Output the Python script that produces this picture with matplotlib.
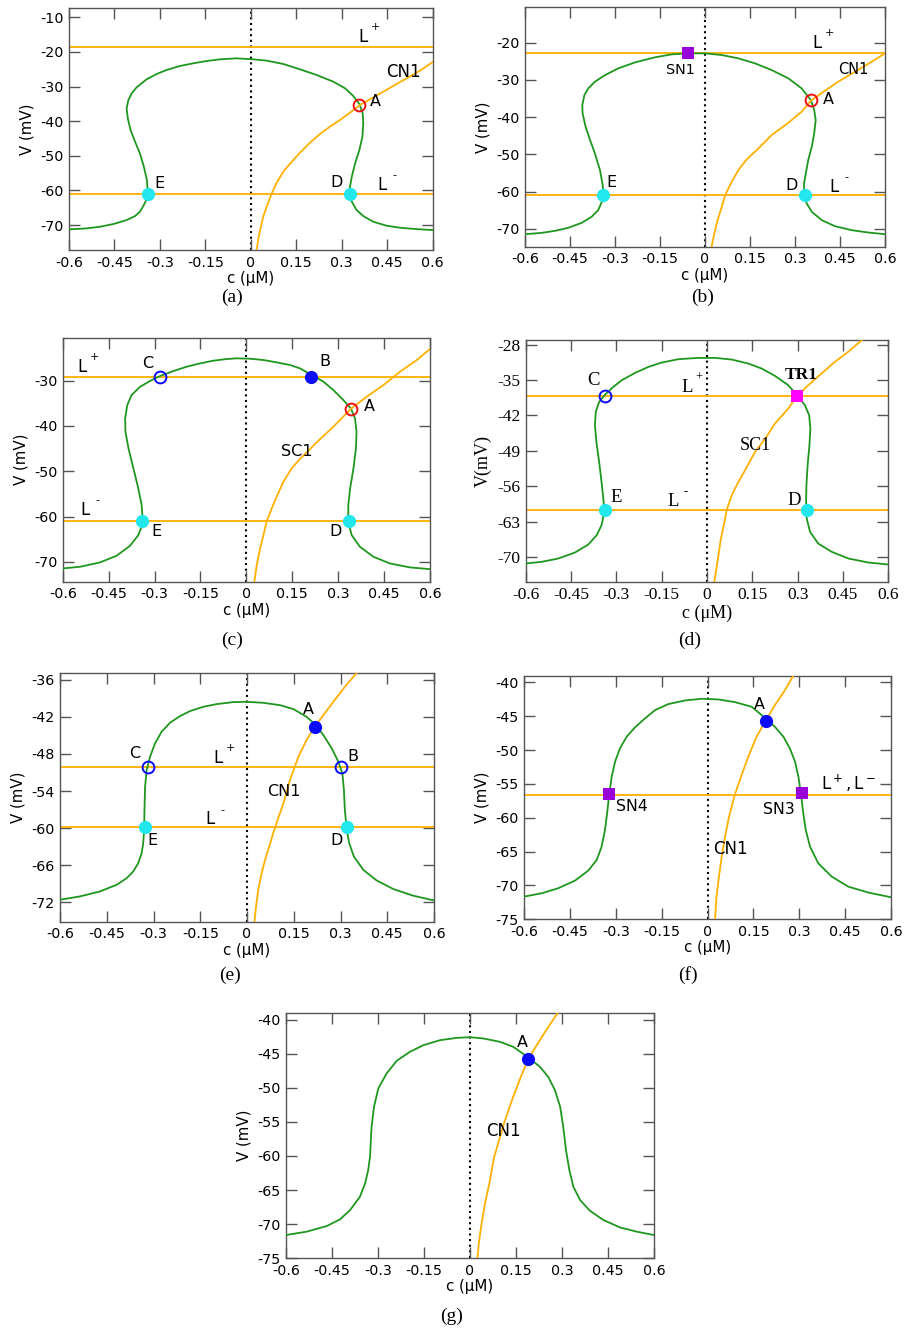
import matplotlib
matplotlib.use('Agg')
import matplotlib.pyplot as plt

plt.rcParams['axes.unicode_minus'] = False
plt.rcParams['font.family'] = ['DejaVu Sans']

GREEN = '#1f971f'
ORANGE = '#ffb000'
CYAN = '#22e8ee'
BLUE = '#0a0aff'
RED = '#ee1010'
PURPLE = '#9a00d8'
MAGENTA = '#ff00ff'
SANS = ['DejaVu Sans']
SERIF = ['Liberation Serif', 'DejaVu Serif']

xticks = [-0.6, -0.45, -0.3, -0.15, 0, 0.15, 0.3, 0.45, 0.6]
xtick_labels = ['-0.6', '-0.45', '-0.3', '-0.15', '0', '0.15', '0.3', '0.45', '0.6']

# ---------------- panel (a) ----------------
green_a_c = [-0.6, -0.542, -0.498, -0.454, -0.410, -0.382, -0.366, -0.353, -0.344, -0.340,
             -0.343, -0.353, -0.366, -0.382, -0.397, -0.406, -0.410, -0.404, -0.393, -0.377,
             -0.344, -0.311, -0.278, -0.234, -0.190, -0.146, -0.102, -0.047, 0.008, 0.052,
             0.107, 0.162, 0.217, 0.272, 0.311, 0.338, 0.358, 0.369, 0.371, 0.368, 0.358,
             0.344, 0.333, 0.327, 0.327, 0.333, 0.349, 0.371, 0.404, 0.448, 0.492, 0.547, 0.6]
green_a_v = [-71.25, -70.96, -70.48, -69.71, -68.56, -67.40, -66.15, -64.22, -62.59, -60.85,
             -57.00, -53.15, -49.29, -45.92, -42.55, -39.18, -36.29, -33.88, -31.96, -30.23,
             -27.91, -26.37, -25.22, -24.06, -23.29, -22.62, -22.14, -21.85, -22.14, -22.52,
             -23.48, -25.02, -26.66, -28.59, -30.51, -32.73, -35.04, -37.74, -40.63, -44.48,
             -48.33, -52.18, -56.04, -58.93, -60.85, -63.26, -65.67, -67.40, -69.04, -70.19,
             -70.77, -71.16, -71.45]
orange_a_c = [0.019, 0.025, 0.033, 0.041, 0.052, 0.069, 0.085, 0.107, 0.135, 0.162, 0.195,
              0.228, 0.261, 0.294, 0.327, 0.358, 0.393, 0.437, 0.481, 0.514, 0.558, 0.6]
orange_a_v = [-77.22, -73.85, -70.48, -67.59, -64.70, -60.85, -57.77, -54.59, -51.70, -49.10,
              -46.21, -43.71, -41.59, -39.66, -37.54, -35.43, -33.69, -31.48, -29.26, -27.62,
              -25.41, -22.91]
levels_a = [-18.5, -60.9]
yticks_a = [-70, -60, -50, -40, -30, -20, -10]
ylim_a = (-77.2, -7.4)

# ---------------- panel (b) ----------------
green_b_c = [-0.6, -0.544, -0.500, -0.456, -0.411, -0.378, -0.356, -0.344, -0.339, -0.341,
             -0.350, -0.367, -0.383, -0.398, -0.408, -0.409, -0.402, -0.389, -0.367, -0.333,
             -0.289, -0.233, -0.167, -0.111, -0.056, 0.000, 0.056, 0.111, 0.167, 0.222,
             0.278, 0.322, 0.353, 0.364, 0.369, 0.364, 0.356, 0.344, 0.336, 0.330, 0.331,
             0.339, 0.356, 0.389, 0.433, 0.489, 0.544, 0.6]
green_b_v = [-71.44, -71.08, -70.54, -69.73, -68.39, -66.78, -64.98, -62.74, -60.77, -58.26,
             -54.23, -49.75, -46.17, -42.58, -39.00, -36.76, -34.07, -32.28, -30.48, -28.69,
             -26.90, -25.29, -23.94, -23.14, -22.87, -22.87, -23.32, -24.21, -25.56, -27.35,
             -29.59, -32.28, -35.41, -38.10, -40.79, -44.37, -47.96, -51.54, -55.13, -57.82,
             -60.77, -63.19, -65.43, -67.67, -69.29, -70.36, -70.99, -71.44]
orange_b_c = [0.022, 0.031, 0.042, 0.056, 0.067, 0.089, 0.111, 0.139, 0.178, 0.222, 0.278,
              0.322, 0.353, 0.400, 0.444, 0.500, 0.556, 0.6]
orange_b_v = [-74.84, -71.26, -67.67, -64.09, -60.95, -57.37, -54.23, -51.36, -48.41, -44.82,
              -41.51, -38.55, -35.59, -32.90, -30.48, -27.80, -25.11, -22.87]
levels_b = [-22.9, -60.8]
yticks_b = [-70, -60, -50, -40, -30, -20]
ylim_b = (-74.8, -10.5)

# ---------------- panel (c) ----------------
green_c_c = [-0.6, -0.543, -0.478, -0.424, -0.380, -0.353, -0.340, -0.339, -0.342, -0.353,
             -0.369, -0.385, -0.395, -0.396, -0.389, -0.375, -0.347, -0.315, -0.282, -0.238,
             -0.195, -0.151, -0.108, -0.064, -0.032, 0.012, 0.056, 0.099, 0.143, 0.175,
             0.210, 0.252, 0.284, 0.317, 0.342, 0.355, 0.360, 0.358, 0.350, 0.339, 0.333,
             0.333, 0.344, 0.371, 0.415, 0.469, 0.535, 0.6]
green_c_v = [-71.47, -71.10, -70.14, -68.67, -66.46, -64.10, -61.89, -60.42, -57.48, -53.79,
             -49.37, -44.95, -41.27, -38.32, -35.38, -33.17, -31.33, -30.07, -28.97, -27.86,
             -26.91, -26.17, -25.58, -25.21, -25.06, -25.14, -25.43, -25.95, -26.54, -27.27,
             -28.60, -30.22, -32.06, -34.27, -36.19, -38.32, -41.27, -44.95, -49.37, -53.79,
             -57.48, -61.16, -64.10, -66.68, -68.89, -70.37, -71.25, -71.62]
orange_c_c = [0.026, 0.034, 0.045, 0.056, 0.066, 0.083, 0.099, 0.121, 0.148, 0.175, 0.208,
              0.241, 0.284, 0.342, 0.393, 0.448, 0.502, 0.557, 0.6]
orange_c_v = [-74.42, -70.73, -67.05, -64.10, -61.16, -58.21, -55.63, -52.32, -49.37, -47.31,
              -45.10, -42.89, -40.17, -36.19, -33.54, -30.96, -28.01, -25.43, -23.00]
levels_c = [-29.1, -61.0]
yticks_c = [-70, -60, -50, -40, -30]
ylim_c = (-74.4, -20.5)

# ---------------- panel (d) ----------------
green_d_c = [-0.6, -0.547, -0.492, -0.437, -0.393, -0.365, -0.349, -0.342, -0.342, -0.349,
             -0.357, -0.366, -0.371, -0.368, -0.357, -0.337, -0.310, -0.282, -0.238, -0.194,
             -0.150, -0.095, -0.029, 0.027, 0.082, 0.137, 0.181, 0.225, 0.269, 0.299, 0.324,
             0.338, 0.342, 0.339, 0.333, 0.329, 0.328, 0.330, 0.341, 0.368, 0.413, 0.468,
             0.534, 0.6]
green_d_v = [-71.30, -70.97, -70.31, -69.13, -67.55, -65.70, -63.72, -61.75, -59.11, -55.16,
             -51.20, -47.25, -43.95, -41.31, -39.34, -37.89, -36.37, -35.05, -33.60, -32.42,
             -31.56, -30.90, -30.64, -30.64, -30.97, -31.76, -32.75, -34.20, -36.04, -38.08,
             -40.00, -41.97, -44.61, -47.90, -51.86, -55.81, -59.11, -62.41, -65.04, -67.35,
             -69.00, -70.31, -71.11, -71.50]
orange_d_c = [0.024, 0.031, 0.038, 0.046, 0.057, 0.065, 0.082, 0.104, 0.126, 0.159, 0.193,
              0.225, 0.269, 0.299, 0.335, 0.379, 0.423, 0.467, 0.512]
orange_d_v = [-74.93, -72.29, -69.66, -66.36, -63.39, -60.76, -57.79, -55.16, -52.85, -49.22,
              -46.59, -43.62, -40.65, -38.08, -36.04, -33.73, -31.43, -29.45, -27.14]
levels_d = [-38.1, -60.8]
yticks_d = [-70, -63, -56, -49, -42, -35, -28]
ylim_d = (-74.9, -27.1)

# ---------------- panel (e) ----------------
green_e_c = [-0.6, -0.536, -0.472, -0.418, -0.386, -0.365, -0.349, -0.338, -0.333, -0.330,
             -0.329, -0.327, -0.322, -0.311, -0.295, -0.274, -0.247, -0.215, -0.183, -0.140,
             -0.097, -0.044, -0.001, 0.052, 0.106, 0.149, 0.191, 0.218, 0.245, 0.272, 0.293,
             0.306, 0.311, 0.314, 0.320, 0.328, 0.343, 0.373, 0.416, 0.470, 0.534, 0.6]
green_e_v = [-71.56, -71.02, -70.22, -69.14, -68.07, -66.99, -65.65, -64.04, -62.43, -60.28,
             -57.06, -53.30, -50.61, -48.46, -46.31, -44.43, -42.98, -41.91, -41.10, -40.40,
             -39.97, -39.65, -39.60, -39.76, -40.14, -40.78, -42.02, -43.20, -44.97, -47.12,
             -49.27, -51.15, -53.83, -57.06, -60.28, -62.43, -64.58, -66.72, -68.44, -69.84,
             -70.91, -71.67]
orange_e_c = [0.024, 0.029, 0.036, 0.047, 0.058, 0.068, 0.084, 0.101, 0.117, 0.138, 0.165,
              0.191, 0.218, 0.245, 0.277, 0.314, 0.352]
orange_e_v = [-75.05, -72.63, -69.95, -67.26, -65.11, -63.50, -60.82, -58.24, -55.98, -52.22,
              -48.46, -45.78, -43.57, -41.75, -39.60, -37.18, -34.93]
levels_e = [-50.2, -59.8]
yticks_e = [-72, -66, -60, -54, -48, -42, -36]
ylim_e = (-75.1, -34.9)

# ---------------- panel (f) ----------------
green_f_c = [-0.6, -0.543, -0.489, -0.434, -0.391, -0.363, -0.347, -0.336, -0.329, -0.322,
             -0.314, -0.303, -0.287, -0.265, -0.238, -0.205, -0.172, -0.129, -0.074, -0.020,
             0.035, 0.089, 0.144, 0.190, 0.220, 0.248, 0.269, 0.286, 0.297, 0.305, 0.313,
             0.321, 0.335, 0.362, 0.406, 0.460, 0.526, 0.6]
green_f_v = [-71.64, -71.15, -70.41, -69.28, -67.81, -66.23, -64.26, -61.80, -59.34, -56.49,
             -53.93, -51.71, -49.74, -48.02, -46.64, -45.31, -44.08, -43.20, -42.66, -42.41,
             -42.51, -42.90, -43.59, -45.32, -46.55, -48.02, -49.74, -51.71, -53.93, -56.39,
             -59.34, -61.80, -64.26, -66.72, -68.69, -70.17, -71.05, -71.74]
orange_f_c = [0.024, 0.029, 0.037, 0.046, 0.057, 0.070, 0.089, 0.109, 0.133, 0.160, 0.190,
              0.220, 0.253, 0.280]
orange_f_v = [-74.99, -71.64, -68.69, -65.74, -62.79, -59.83, -56.58, -53.93, -50.97, -48.02,
              -45.66, -43.35, -41.13, -39.02]
levels_f = [-56.6]
yticks_f = [-75, -70, -65, -60, -55, -50, -45, -40]
ylim_f = (-75.0, -39.0)

# ---------------- panel (g) ----------------
green_g_c = [-0.6, -0.533, -0.467, -0.424, -0.391, -0.359, -0.342, -0.332, -0.326, -0.321,
             -0.313, -0.299, -0.272, -0.239, -0.196, -0.152, -0.098, -0.043, 0.000, 0.044,
             0.098, 0.141, 0.190, 0.228, 0.255, 0.277, 0.294, 0.304, 0.313, 0.324, 0.337,
             0.359, 0.391, 0.435, 0.489, 0.544, 0.6]
green_g_v = [-71.59, -71.10, -70.27, -69.30, -67.93, -65.98, -64.02, -62.07, -60.12, -55.72,
             -52.79, -50.11, -47.91, -46.05, -44.74, -43.76, -43.03, -42.69, -42.59, -42.78,
             -43.27, -44.00, -45.57, -46.93, -48.40, -50.35, -52.79, -55.72, -59.14, -62.07,
             -64.51, -66.46, -68.03, -69.39, -70.47, -71.10, -71.59]
orange_g_c = [0.024, 0.030, 0.038, 0.049, 0.063, 0.078, 0.096, 0.114, 0.141, 0.165, 0.190,
              0.217, 0.250, 0.286]
orange_g_v = [-75.01, -72.32, -69.88, -66.95, -64.02, -60.30, -57.50, -54.80, -51.30, -48.50,
              -45.76, -43.80, -41.46, -39.02]
yticks_g = [-75, -70, -65, -60, -55, -50, -45, -40]
ylim_g = (-75.0, -39.0)

# markers: (c, V, kind)
pts_a = [(-0.340, -60.9, 'cyan'), (0.327, -60.9, 'cyan'), (0.358, -35.2, 'red_open')]
pts_b = [(-0.339, -60.8, 'cyan'), (0.333, -60.8, 'cyan'), (0.353, -35.4, 'red_open'),
         (-0.056, -22.9, 'purple_sq')]
pts_c = [(-0.340, -61.0, 'cyan'), (0.335, -61.0, 'cyan'), (0.342, -36.2, 'red_open'),
         (-0.282, -29.1, 'blue_open'), (0.210, -29.1, 'blue')]
pts_d = [(-0.338, -60.8, 'cyan'), (0.330, -60.8, 'cyan'), (-0.338, -38.1, 'blue_open'),
         (0.299, -38.1, 'magenta_sq')]
pts_e = [(-0.327, -59.8, 'cyan'), (0.320, -59.8, 'cyan'), (-0.319, -50.2, 'blue_open'),
         (0.300, -50.2, 'blue_open'), (0.218, -43.6, 'blue')]
pts_f = [(-0.322, -56.5, 'purple_sq'), (0.308, -56.4, 'purple_sq'), (0.190, -45.7, 'blue')]
pts_g = [(0.190, -45.8, 'blue')]

# text labels: (c, V, text, size)
labels_a = [(0.505, -25.7, 'CN1', 12), (0.410, -34.4, 'A', 11.5), (-0.300, -58.0, 'E', 11.5),
            (0.283, -57.8, 'D', 11.5)]
lsym_a = [(0.371, -15.6, '+'), (0.432, -58.4, '-')]
labels_b = [(0.494, -27.3, 'CN1', 10.5), (0.411, -35.2, 'A', 11.5),
            (-0.083, -27.3, 'SN1', 10.3), (-0.311, -57.6, 'E', 11.5), (0.289, -58.3, 'D', 11.5)]
lsym_b = [(0.372, -20.0, '+'), (0.431, -58.7, '-')]
labels_c = [(-0.322, -26.2, 'C', 11.5), (0.257, -25.8, 'B', 11.5), (0.402, -35.7, 'A', 11.5),
            (0.164, -45.7, 'SC1', 11.6), (-0.293, -63.4, 'E', 11.5), (0.290, -63.4, 'D', 11.5)]
lsym_c = [(-0.538, -26.9, '+'), (-0.527, -58.6, '-')]
labels_d = [(-0.376, -35.1, 'C', 13.5), (0.159, -47.9, 'SC1', 13), (-0.299, -58.3, 'E', 13.5),
            (0.288, -58.8, 'D', 13.5)]
lsym_d = [(-0.067, -36.4, '+'), (-0.111, -59.0, '-')]
labels_e = [(0.197, -40.9, 'A', 11.5), (-0.359, -48.0, 'C', 11.5), (0.339, -48.4, 'B', 11.5),
            (0.117, -54.0, 'CN1', 11.5), (-0.304, -62.0, 'E', 11.5), (0.288, -62.0, 'D', 11.5)]
lsym_e = [(-0.092, -48.7, '+'), (-0.119, -58.6, '-')]
labels_f = [(0.169, -43.2, 'A', 11.5), (-0.249, -58.3, 'SN4', 11.3), (0.233, -58.8, 'SN3', 11.3),
            (0.073, -64.6, 'CN1', 12), (0.460, -54.9, r'$\mathregular{L^+, L^-}$', 12)]
labels_g = [(0.170, -43.3, 'A', 11.5), (0.109, -56.4, 'CN1', 12)]

W, H = 907, 1331
fig = plt.figure(figsize=(W / 100, H / 100), dpi=100)


def px_axes(left, right, top, bottom):
    return fig.add_axes([left / W, 1 - bottom / H, (right - left) / W, (bottom - top) / H])


MARK = {
    'cyan': dict(marker='o', ms=9.5, mfc=CYAN, mec=CYAN, mew=0),
    'blue': dict(marker='o', ms=9.5, mfc=BLUE, mec=BLUE, mew=0),
    'red_open': dict(marker='o', ms=8.5, mfc='none', mec=RED, mew=1.4),
    'blue_open': dict(marker='o', ms=8.5, mfc='none', mec=BLUE, mew=1.4),
    'purple_sq': dict(marker='s', ms=8.5, mfc=PURPLE, mec=PURPLE, mew=0),
    'magenta_sq': dict(marker='s', ms=8.5, mfc=MAGENTA, mec=MAGENTA, mew=0),
}


def draw(ax, gc, gv, oc, ov, levels, yticks, ylim, pts, labels, lsym, serif=False,
         ylab='V (mV)'):
    fam = SERIF if serif else SANS
    tfs = 12.5 if serif else 10.3
    ax.set_xlim(-0.6, 0.6)
    ax.set_ylim(*ylim)
    ax.axvline(0, color='black', ls=(0, (1, 1.7)), lw=1.5, zorder=1)
    for lv in levels:
        ax.axhline(lv, color=ORANGE, lw=1.3, zorder=2)
    ax.plot(gc, gv, color=GREEN, lw=1.3, zorder=3)
    ax.plot(oc, ov, color=ORANGE, lw=1.3, zorder=3)
    for c, v, k in pts:
        ax.plot([c], [v], ls='none', zorder=5, **MARK[k])
    for c, v, t, s in labels:
        ax.text(c, v, t, ha='center', va='center', fontsize=s, family=fam, zorder=6)
    for c, v, sgn in lsym:
        ax.text(c, v, 'L', ha='center', va='center', fontsize=13.5 if serif else 12,
                family=fam, zorder=6)
        ax.annotate(sgn, (c, v), xytext=(9, 7), textcoords='offset points', ha='center',
                    va='center', fontsize=9 if serif else 8, family=fam, zorder=6)
    ax.set_xticks(xticks)
    ax.set_xticklabels(xtick_labels, family=fam, fontsize=tfs)
    ax.set_yticks(yticks)
    ax.set_yticklabels([str(t) for t in yticks], family=fam, fontsize=tfs)
    ax.tick_params(direction='in', length=8, width=1, color='#555555', top=True,
                   right=True, pad=4)
    ax.tick_params(axis='x', pad=4)
    for sp in ax.spines.values():
        sp.set_color('#555555')
        sp.set_linewidth(1.0)
    ax.set_xlabel('c (μM)', family=fam, fontsize=tfs + 0.5, labelpad=1)
    ax.set_ylabel(ylab, family=fam, fontsize=tfs + 0.5, labelpad=4)


ax_a = px_axes(69, 432.7, 8.3, 250)
draw(ax_a, green_a_c, green_a_v, orange_a_c, orange_a_v, levels_a, yticks_a, ylim_a,
     pts_a, labels_a, lsym_a)
ax_b = px_axes(525, 885, 7.3, 246.7)
draw(ax_b, green_b_c, green_b_v, orange_b_c, orange_b_v, levels_b, yticks_b, ylim_b,
     pts_b, labels_b, lsym_b)
ax_c = px_axes(62.7, 430, 337.7, 581.7)
draw(ax_c, green_c_c, green_c_v, orange_c_c, orange_c_v, levels_c, yticks_c, ylim_c,
     pts_c, labels_c, lsym_c)
ax_d = px_axes(525.7, 888.3, 340, 581.7)
draw(ax_d, green_d_c, green_d_v, orange_d_c, orange_d_v, levels_d, yticks_d, ylim_d,
     pts_d, labels_d, lsym_d, serif=True, ylab='V(mV)')
ax_d.text(0.313, -34.1, 'TR1', ha='center', va='center', fontsize=12.5, family=SERIF,
          fontweight='bold', zorder=6)
ax_e = px_axes(60, 434, 672.7, 921.7)
draw(ax_e, green_e_c, green_e_v, orange_e_c, orange_e_v, levels_e, yticks_e, ylim_e,
     pts_e, labels_e, lsym_e)
ax_f = px_axes(524.3, 891, 675.7, 919.3)
draw(ax_f, green_f_c, green_f_v, orange_f_c, orange_f_v, levels_f, yticks_f, ylim_f,
     pts_f, labels_f, [])
ax_g = px_axes(286, 654, 1012.7, 1258.3)
draw(ax_g, green_g_c, green_g_v, orange_g_c, orange_g_v, [], yticks_g, ylim_g,
     pts_g, labels_g, [])

panel_tags = [('(a)', 232, 297), ('(b)', 703, 297), ('(c)', 232, 640), ('(d)', 690, 640),
              ('(e)', 230, 975), ('(f)', 688, 975), ('(g)', 452, 1316)]
for t, x, y in panel_tags:
    fig.text(x / W, 1 - y / H, t, ha='center', va='center', fontsize=14, family=SERIF)

fig.savefig('out.png', dpi=100)
